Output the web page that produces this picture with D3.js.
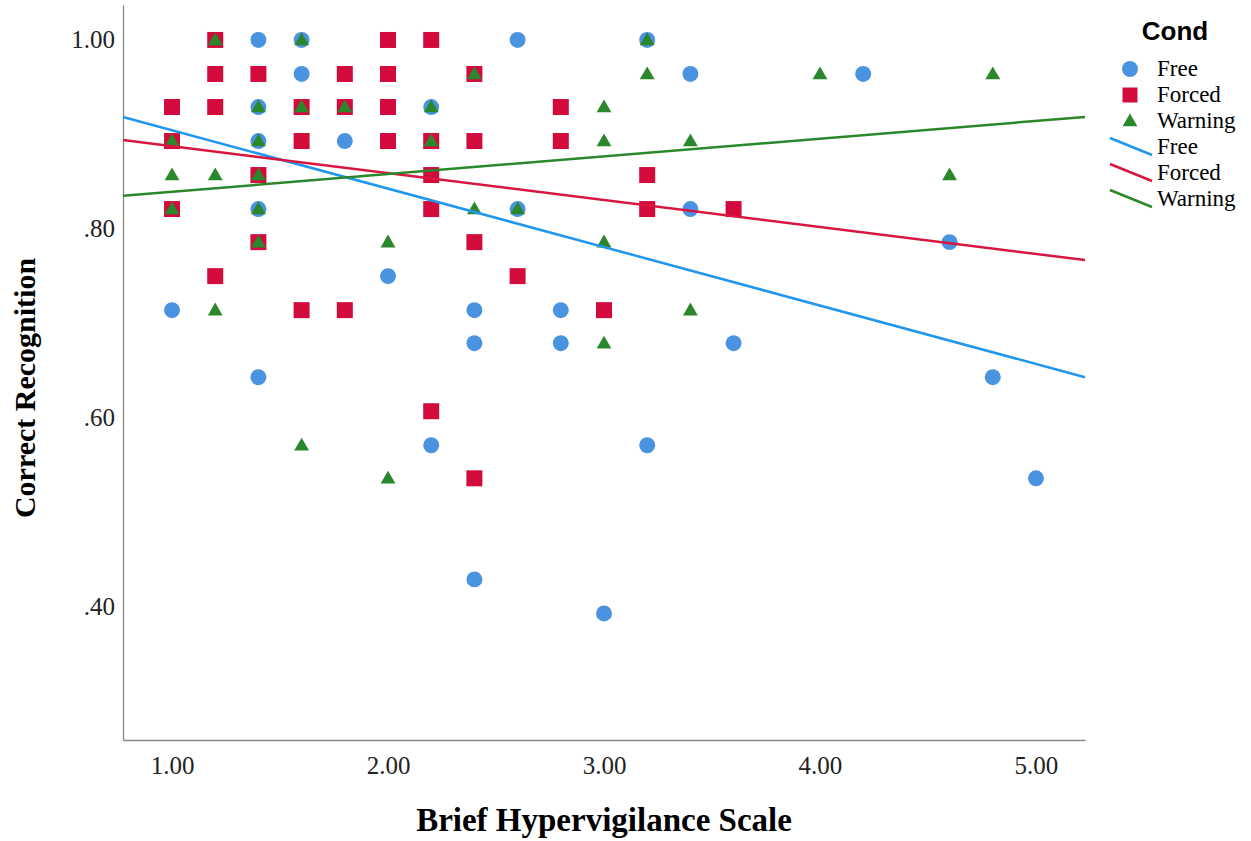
<!DOCTYPE html>
<html>
<head>
<meta charset="utf-8">
<script src="https://cdn.jsdelivr.net/npm/d3@7"></script>
<style>
  body { margin: 0; background: #fff; }
  svg { display: block; }
</style>
</head>
<body>
<script>
// scatter of recognition by hypervigilance, three conditions + fit lines

var conds = ["Free", "Forced", "Warning"];

// x = BHS score, y = proportion correct (k/28)
var freeX = [1.4, 1.6, 2.6, 3.2, 1.6, 3.4, 4.2, 1.4, 2.2, 1.4, 1.8, 1.4, 2.6, 3.4, 4.6, 2.0,
             1.0, 2.4, 2.8, 2.4, 2.8, 3.6, 1.4, 4.8, 2.2, 3.2, 5.0, 2.4, 3.0];
var freeY = [1.0, 1.0, 1.0, 1.0, 0.964, 0.964, 0.964, 0.929, 0.929, 0.893, 0.893, 0.821, 0.821, 0.821, 0.786, 0.75,
             0.714, 0.714, 0.714, 0.679, 0.679, 0.679, 0.643, 0.643, 0.571, 0.571, 0.536, 0.429, 0.393];

var forcedX = [1.2, 2.0, 2.2, 1.2, 1.4, 1.8, 2.0, 2.4, 1.0, 1.2, 1.6, 1.8, 2.0, 2.8,
               1.0, 1.6, 2.0, 2.2, 2.4, 2.8, 1.4, 2.2, 3.2, 1.0, 2.2, 3.2, 3.6,
               1.4, 2.4, 1.2, 2.6, 1.6, 1.8, 3.0, 2.2, 2.4];
var forcedY = [1.0, 1.0, 1.0, 0.964, 0.964, 0.964, 0.964, 0.964, 0.929, 0.929, 0.929, 0.929, 0.929, 0.929,
               0.893, 0.893, 0.893, 0.893, 0.893, 0.893, 0.857, 0.857, 0.857, 0.821, 0.821, 0.821, 0.821,
               0.786, 0.786, 0.75, 0.75, 0.714, 0.714, 0.714, 0.607, 0.536];

var warnX = [1.2, 1.6, 3.2, 2.4, 3.2, 4.0, 4.8, 1.4, 1.6, 1.8, 2.2, 3.0, 1.0, 1.4, 2.2, 3.0, 3.4,
             1.0, 1.2, 1.4, 4.6, 1.0, 1.4, 2.4, 2.6, 1.4, 2.0, 3.0, 1.2, 3.4, 3.0, 1.6, 2.0];
var warnY = [1.0, 1.0, 1.0, 0.964, 0.964, 0.964, 0.964, 0.929, 0.929, 0.929, 0.929, 0.929, 0.893, 0.893, 0.893, 0.893, 0.893,
             0.857, 0.857, 0.857, 0.857, 0.821, 0.821, 0.821, 0.821, 0.786, 0.786, 0.786, 0.714, 0.714, 0.679, 0.571, 0.536];

// fit lines, y value at left and right end of x domain
var fitLeft = [0.9185, 0.894, 0.835];
var fitRight = [0.643, 0.767, 0.9185];

var xTicks = [1, 2, 3, 4, 5];
var yTicks = [0.4, 0.6, 0.8, 1.0];

var W = 1251, H = 841;
var mLeft = 123, mRight = 1085, mTop = 5, mBottom = 740;

var ptColors = ["#4a93e0", "#d30a3c", "#2b872b"];
var lnColors = ["#2196ee", "#d8163f", "#2b872b"];

var svg = d3.select("body").append("svg")
  .attr("width", W)
  .attr("height", H);

var x = d3.scaleLinear().domain([0.773, 5.227]).range([mLeft, mRight]);
var y = d3.scaleLinear().domain([0.259, 1.037]).range([mBottom, mTop]);

// axes
var xAxis = svg.append("g")
  .attr("transform", "translate(0," + mBottom + ")")
  .call(d3.axisBottom(x).tickValues(xTicks).tickSize(0).tickPadding(16).tickFormat(d3.format(".2f")));
var yAxis = svg.append("g")
  .attr("transform", "translate(" + mLeft + ",0)")
  .call(d3.axisLeft(y).tickValues(yTicks).tickSize(0).tickPadding(8)
    .tickFormat(function(d) { return d == 1 ? "1.00" : d3.format(".2f")(d).replace("0.", "."); }));

[xAxis, yAxis].forEach(function(g) {
  g.select(".domain").attr("stroke", "#888").attr("stroke-width", 1.3);
  g.selectAll("text")
    .attr("font-family", "Liberation Serif, serif")
    .attr("font-size", "25px")
    .attr("fill", "#222");
});

// points: Free, then Forced, then Warning on top
var sets = [
  { xs: freeX, ys: freeY, sym: d3.symbolCircle, size: 200 },
  { xs: forcedX, ys: forcedY, sym: d3.symbolSquare, size: 256 },
  { xs: warnX, ys: warnY, sym: d3.symbolTriangle, size: 95 }
];

sets.forEach(function(s, i) {
  svg.append("g").selectAll("path")
    .data(d3.range(s.xs.length))
    .enter()
    .append("path")
    .attr("d", d3.symbol().type(s.sym).size(s.size))
    .attr("transform", function(j) {
      var dy = i == 2 ? 1 : 0;
      return "translate(" + x(s.xs[j]) + "," + (y(s.ys[j]) + dy) + ")";
    })
    .attr("fill", ptColors[i]);
});

// fit lines
var xd = x.domain();
conds.forEach(function(c, i) {
  svg.append("line")
    .attr("x1", x(xd[0])).attr("y1", y(fitLeft[i]))
    .attr("x2", x(xd[1])).attr("y2", y(fitRight[i]))
    .attr("stroke", lnColors[i])
    .attr("stroke-width", 2.5);
});

// titles
svg.append("text")
  .attr("x", 604).attr("y", 831)
  .attr("text-anchor", "middle")
  .attr("font-family", "Liberation Serif, serif")
  .attr("font-weight", "bold")
  .attr("font-size", "33px")
  .text("Brief Hypervigilance Scale");

svg.append("text")
  .attr("transform", "translate(35,388) rotate(-90)")
  .attr("text-anchor", "middle")
  .attr("font-family", "Liberation Serif, serif")
  .attr("font-weight", "bold")
  .attr("font-size", "30px")
  .text("Correct Recognition");

// legend
var lg = svg.append("g");
lg.append("text")
  .attr("x", 1175).attr("y", 40)
  .attr("text-anchor", "middle")
  .attr("font-family", "Liberation Sans, Arial, sans-serif")
  .attr("font-weight", "bold")
  .attr("font-size", "26px")
  .text("Cond");

conds.forEach(function(c, i) {
  var ry = 69 + i * 26;
  lg.append("path")
    .attr("d", d3.symbol().type(sets[i].sym).size(i == 0 ? 200 : i == 1 ? 225 : 95))
    .attr("transform", "translate(1130," + (ry + (i == 2 ? 1 : 0)) + ")")
    .attr("fill", ptColors[i]);
  lg.append("text")
    .attr("x", 1157).attr("y", ry + 7)
    .attr("font-family", "Liberation Serif, serif")
    .attr("font-size", "23px")
    .text(c);

  var ly = 147 + i * 26;
  lg.append("line")
    .attr("x1", 1110).attr("y1", ly - 9)
    .attr("x2", 1152).attr("y2", ly + 8)
    .attr("stroke", lnColors[i])
    .attr("stroke-width", 2.5);
  lg.append("text")
    .attr("x", 1157).attr("y", ly + 7)
    .attr("font-family", "Liberation Serif, serif")
    .attr("font-size", "23px")
    .text(c);
});
</script>
</body>
</html>
